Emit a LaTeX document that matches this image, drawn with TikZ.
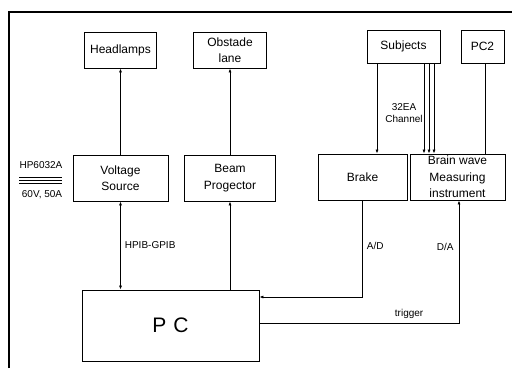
\documentclass[tikz,border=0pt]{standalone}
\usepackage{fontspec}
\setmainfont{Liberation Sans}
\usetikzlibrary{arrows.meta, positioning, calc}

\begin{document}
\begin{tikzpicture}[
      x=1pt, y=-1pt,
      box/.style={draw, line width=0.8pt, inner sep=0pt, align=center,
                  font=\fontsize{12}{16.5}\selectfont},
      wire/.style={line width=0.7pt},
      arr/.style={wire, -{Latex[length=4pt, width=3pt]}},
      lbl/.style={font=\fontsize{10}{12}\selectfont, inner sep=1pt}
    ]
    \useasboundingbox (0,0) rectangle (512,368);
    % frame
    \draw[line width=1.1pt] (9,368) -- (9,12) -- (512,12);

    % top row
    \node[box, minimum width=72pt, minimum height=36pt] (head) at (120.5,50) {Headlamps};
    \node[box, minimum width=73pt, minimum height=36pt] (obst) at (230,50) {Obstade\\lane};
    \node[box, minimum width=73pt, minimum height=33pt] (subj) at (403.5,46.5) {Subjects};
    \node[box, minimum width=43pt, minimum height=33pt] (pc2) at (482.5,46.5) {PC2};

    % middle row
    \node[box, minimum width=95pt, minimum height=46pt] (volt) at (120.5,178) {Voltage\\Source};
    \node[box, minimum width=91pt, minimum height=46pt] (beam) at (230,178) {Beam\\Progector};
    \node[box, minimum width=89pt, minimum height=46pt] (brake) at (362.5,177) {Brake};
    \node[box, minimum width=95pt, minimum height=46pt] (brain) at (457.5,177)
      {Brain wave\\Measuring\\instrument};

    % PC
    \node[box, minimum width=177pt, minimum height=71pt,
          font=\fontsize{21}{24}\selectfont] (pc) at (170.5,325.5) {P\,\,C};

    % power supply note
    \node[lbl] (hp) at (41,165) {HP6032A};
    \node[lbl] (rate) at (42,195) {60V, 50A};
    \foreach \yy in {177.5,180.5,183.5}
      \draw[line width=0.8pt] (19,\yy) -- (62,\yy);

    % connectors
    \draw[arr] (volt.north) -- (head.south);
    \draw[arr] (beam.north) -- (obst.south);
    \draw[wire, {Latex[length=4pt, width=3pt]}-{Latex[length=4pt, width=3pt]}]
      (volt.south) -- (volt.south |- pc.north)
      node[lbl, midway, right=3pt] {HPIB-GPIB};
    \draw[arr] (beam.south |- pc.north) -- (beam.south);

    \draw[arr] ([xshift=-26.5pt]subj.south) -- ([xshift=-26.5pt]subj.south |- brake.north);
    \foreach \dx in {20.5,25.5,30.5}
      \draw[arr] ([xshift=\dx pt]subj.south) -- ([xshift=\dx pt]subj.south |- brain.north);
    \node[lbl, align=center] (chan) at (404,113) {32EA\\Channel};
    \draw[wire] ([xshift=2.5pt]pc2.south) -- ([xshift=2.5pt]pc2.south |- brain.north);

    \draw[arr] (brake.south) |- ([yshift=28.5pt]pc.east)
      node[lbl, pos=0.235, right=3pt] {A/D};
    \draw[arr] ([yshift=2.5pt]pc.east) -| ([xshift=1.5pt]brain.south)
      node[lbl, pos=0.81, left=4pt] {D/A}
      node[lbl, pos=0.375, above=3pt] {trigger};
  \end{tikzpicture}
\end{document}
